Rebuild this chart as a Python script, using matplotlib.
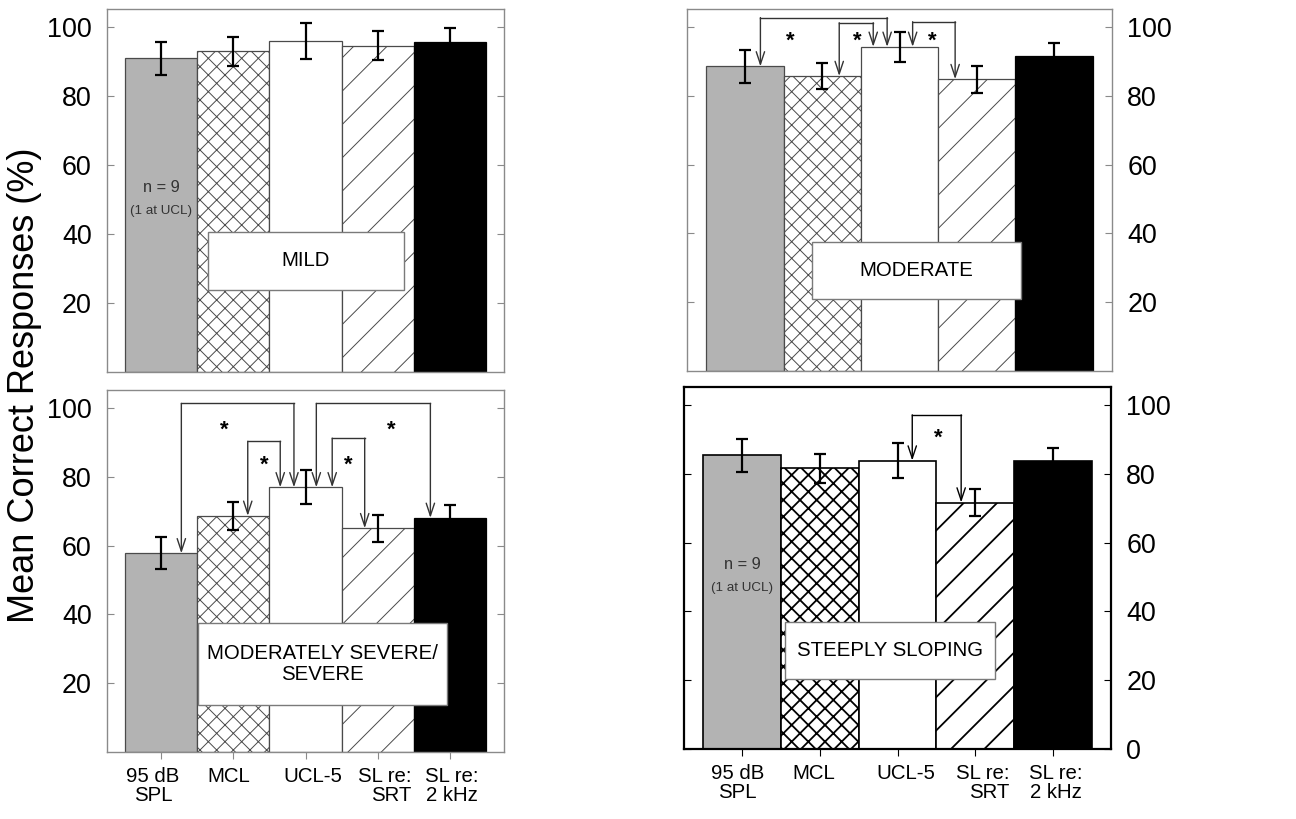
import matplotlib
matplotlib.use('Agg')
import matplotlib.pyplot as plt
from matplotlib import font_manager
from matplotlib.patches import Rectangle
import matplotlib.transforms as mtransforms
import numpy as np

# ---------------- data ----------------
categories = ["95 dB\nSPL", "MCL", "UCL-5", "SL re:\nSRT", "SL re:\n2 kHz"]
mild = [91.0, 93.0, 96.0, 94.6, 95.8]
mild_err = [4.8, 4.3, 5.2, 4.2, 4.0]
moderate = [88.6, 85.8, 94.3, 84.9, 91.6]
moderate_err = [4.7, 3.8, 4.3, 3.9, 3.7]
modsevere = [57.8, 68.7, 77.0, 65.1, 68.1]
modsevere_err = [4.6, 4.0, 4.9, 3.9, 3.7]
steep = [85.4, 81.6, 83.9, 71.7, 83.9]
steep_err = [4.8, 4.2, 5.1, 3.9, 3.7]
yticks_main = [20, 40, 60, 80, 100]
yticks_br = [0, 20, 40, 60, 80, 100]
panel_titles = ["MILD", "MODERATE", "MODERATELY SEVERE/\nSEVERE", "STEEPLY SLOPING"]

# ---------------- fonts ----------------
names = {f.name for f in font_manager.fontManager.ttflist}
if 'Liberation Sans Narrow' in names:
    FAM = ['Liberation Sans Narrow', 'DejaVu Sans']
    k = 1.0
else:
    FAM = ['Liberation Sans', 'DejaVu Sans']
    k = 0.84
plt.rcParams['font.family'] = FAM
plt.rcParams['hatch.linewidth'] = 0.8

W, H = 1296, 819
fig = plt.figure(figsize=(W / 100, H / 100), dpi=100)

# layout (not data)
layout = [
    dict(rect=[107, 9, 397, 363], vals=mild, err=mild_err, side='left', xlab=False,
         box=(1.645, 23.9, 4.36, 40.5), note=True, dark=False, ticks=yticks_main,
         brackets=[]),
    dict(rect=[687, 9, 425, 362], vals=moderate, err=moderate_err, side='right', xlab=False,
         box=(1.87, 21.0, 4.57, 37.4), note=False, dark=False, ticks=yticks_main,
         brackets=[(0, 1.20, 2, 2.84, 102.8, 1.59, 96.9),
                   (1, 2.22, 2, 2.66, 101.3, 2.46, 96.9),
                   (2, 3.17, 3, 3.72, 101.6, 3.43, 96.9)]),
    dict(rect=[107, 390, 397, 362], vals=modsevere, err=modsevere_err, side='left', xlab=True,
         box=(1.507, 13.7, 4.96, 37.4), note=False, dark=False, ticks=yticks_main,
         brackets=[(0, 1.28, 2, 2.84, 101.4, 1.88, 94.6),
                   (1, 2.20, 2, 2.65, 90.4, 2.43, 84.4),
                   (2, 3.15, 4, 4.73, 101.4, 4.19, 94.6),
                   (2, 3.37, 3, 3.82, 91.3, 3.59, 84.4)]),
    dict(rect=[684, 387, 427, 362], vals=steep, err=steep_err, side='right', xlab=True,
         box=(1.55, 20.3, 4.26, 36.9), note=True, dark=True, ticks=yticks_br,
         brackets=[(2, 3.19, 3, 3.82, 97.2, 3.52, 91.3)]),
]
xlab_offsets = [[-8, -5, 7, 7, 2], [-5, -6, 8, 8, 3]]

x = np.arange(1, 6)
fills = ['#b3b3b3', 'white', 'white', 'white', 'black']
hatches = [None, 'xx', None, '/', None]

for pi, (P, title) in enumerate(zip(layout, panel_titles)):
    l, t, w, h = P['rect']
    ax = fig.add_axes([l / W, 1 - (t + h) / H, w / W, h / H])
    dark = P['dark']
    frame = 'black' if dark else '#8a8a8a'
    ec = 'black' if dark else '#4a4a4a'
    hl = 1.3 if dark else 0.7
    vals = P['vals']
    for xi, v, fc, ht in zip(x, vals, fills, hatches):
        bc = ax.bar(xi, v, width=1.0, color=fc, edgecolor=('black' if fc == 'black' else ec),
                    hatch=ht, linewidth=1.2 if dark else 0.9, zorder=2)
        for p in bc.patches:
            if hasattr(p, 'set_hatch_linewidth'):
                p.set_hatch_linewidth(hl)
    ax.errorbar(x, vals, yerr=P['err'], fmt='none', ecolor='black', elinewidth=1.6,
                capsize=4, capthick=1.6, zorder=3)

    ax.set_xlim(0.25, 5.75)
    ax.set_ylim(0, 105.3)
    for s in ax.spines.values():
        s.set_edgecolor(frame)
        s.set_linewidth(1.6 if dark else 1.0)
        s.set_zorder(6)
    ax.set_yticks(P['ticks'])
    ax.tick_params(axis='y', direction='in', length=5, width=0.8, color=frame,
                   left=True, right=True, labelleft=P['side'] == 'left',
                   labelright=P['side'] == 'right', labelsize=23 * k, pad=11)
    if P['xlab']:
        ax.set_xticks(x)
        ax.set_xticklabels(categories, fontsize=17.5 * k, linespacing=1.0)
        ax.tick_params(axis='x', direction='out', length=5, width=0.8, color=frame, pad=6)
        offs = xlab_offsets[0 if pi == 2 else 1]
        for lab, dx in zip(ax.get_xticklabels(), offs):
            lab.set_transform(lab.get_transform() +
                              mtransforms.ScaledTranslation(dx / 100, 0, fig.dpi_scale_trans))
        ax.get_xticklabels()[3].set_multialignment('right')
    else:
        ax.set_xticks([])

    # title box
    x0, y0, x1, y1 = P['box']
    ax.add_patch(Rectangle((x0, y0), x1 - x0, y1 - y0, facecolor='white',
                           edgecolor='#7a7a7a', linewidth=1.0, zorder=4))
    ax.text((x0 + x1) / 2, (y0 + y1) / 2, title, ha='center', va='center',
            fontsize=17.5 * k, linespacing=1.15, zorder=5)

    if P['note']:
        ax.text(1, 53.6, 'n = 9', ha='center', va='center', fontsize=14 * k,
                color='#333333', zorder=5)
        ax.text(1, 46.8, '(1 at UCL)', ha='center', va='center', fontsize=11.5 * k,
                color='#333333', zorder=5)

    # significance brackets
    bcol = 'black' if dark else '#333333'
    for (i, xa, j, xb, yh, sx, sy) in P['brackets']:
        ax.plot([xa, xb], [yh, yh], color=bcol, lw=1.0, zorder=5, solid_capstyle='projecting')
        for xx, tip in ((xa, vals[i]), (xb, vals[j])):
            ax.annotate('', xy=(xx, tip), xytext=(xx, yh),
                        arrowprops=dict(arrowstyle='->,head_length=0.9,head_width=0.3',
                                        color=bcol, lw=1.0, shrinkA=0, shrinkB=0,
                                        mutation_scale=10), zorder=5)
        ax.text(sx, sy - 1.0, '*', ha='center', va='center', fontsize=19 * k,
                fontweight='bold', zorder=5)

fig.text(25 / W, 1 - 385 / H, 'Mean Correct Responses (%)', rotation=90,
         ha='center', va='center', fontsize=31 * k)

fig.savefig('out.png', dpi=100)
